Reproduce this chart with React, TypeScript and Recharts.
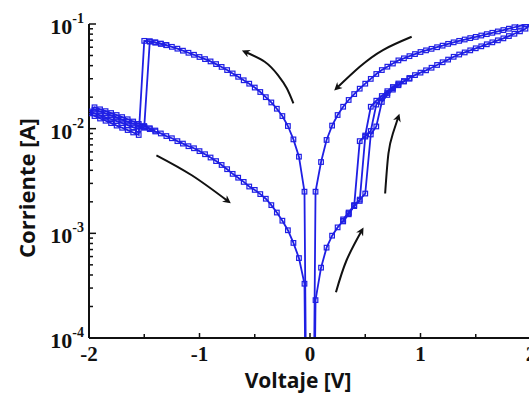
import { Line, LineChart, XAxis, YAxis } from "recharts"

const BLUE = "#1f1fe4"
const INK = "#111111"

type Pt = [number, number]

// bias sweep 0 → +2 V on the high-resistance state, set near +0.5 V
const setSweep: Pt[] = [
  [0, 1e-9], [0.05, 2.3e-4], [0.1, 4.7e-4], [0.15, 7.3e-4], [0.2, 9.5e-4],
  [0.25, 1.14e-3], [0.3, 1.32e-3], [0.35, 1.55e-3], [0.4, 1.82e-3], [0.45, 2.04e-3],
  [0.5, 8.4e-3], [0.55, 9.5e-3], [0.6, 1.7e-2], [0.65, 1.95e-2], [0.7, 2.19e-2],
  [0.75, 2.43e-2], [0.8, 2.64e-2], [0.85, 2.85e-2], [0.9, 3.05e-2], [0.95, 3.25e-2],
  [1.0, 3.43e-2], [1.05, 3.61e-2], [1.1, 3.82e-2], [1.15, 4.06e-2], [1.2, 4.31e-2],
  [1.25, 4.57e-2], [1.3, 4.86e-2], [1.35, 5.11e-2], [1.4, 5.35e-2], [1.45, 5.6e-2],
  [1.5, 5.86e-2], [1.55, 6.12e-2], [1.6, 6.4e-2], [1.65, 6.68e-2], [1.7, 6.98e-2],
  [1.75, 7.29e-2], [1.8, 7.67e-2], [1.85, 8.07e-2], [1.9, 8.51e-2], [1.95, 9.02e-2],
  [2.0, 1.0e-1],
]

// +2 V → 0 on the low-resistance state
const lrsReturn: Pt[] = [
  [2.0, 1.0e-1], [1.95, 9.89e-2], [1.9, 9.59e-2], [1.85, 9.31e-2], [1.8, 9.02e-2],
  [1.75, 8.75e-2], [1.7, 8.49e-2], [1.65, 8.24e-2], [1.6, 8.0e-2], [1.55, 7.76e-2],
  [1.5, 7.53e-2], [1.45, 7.33e-2], [1.4, 7.11e-2], [1.35, 6.9e-2], [1.3, 6.68e-2],
  [1.25, 6.46e-2], [1.2, 6.21e-2], [1.15, 6.0e-2], [1.1, 5.79e-2], [1.05, 5.6e-2],
  [1.0, 5.4e-2], [0.95, 5.16e-2], [0.9, 4.93e-2], [0.85, 4.7e-2], [0.8, 4.49e-2],
  [0.75, 4.19e-2], [0.7, 3.91e-2], [0.65, 3.63e-2], [0.6, 3.33e-2], [0.55, 2.99e-2],
  [0.5, 2.69e-2], [0.45, 2.41e-2], [0.4, 2.14e-2], [0.35, 1.88e-2], [0.3, 1.62e-2],
  [0.25, 1.35e-2], [0.2, 1.07e-2], [0.15, 7.8e-3], [0.1, 4.8e-3], [0.05, 2.5e-3],
  [0, 1e-9],
]

// 0 → -1.5 V on the low-resistance state, reset at -1.5 V
const resetSweep: Pt[] = [
  [0, 1e-9], [-0.05, 2.5e-3], [-0.1, 5.4e-3], [-0.15, 7.9e-3], [-0.2, 1.06e-2],
  [-0.25, 1.32e-2], [-0.3, 1.55e-2], [-0.35, 1.78e-2], [-0.4, 2.0e-2], [-0.45, 2.24e-2],
  [-0.5, 2.47e-2], [-0.55, 2.69e-2], [-0.6, 2.9e-2], [-0.65, 3.13e-2], [-0.7, 3.37e-2],
  [-0.75, 3.63e-2], [-0.8, 3.89e-2], [-0.85, 4.14e-2], [-0.9, 4.39e-2], [-0.95, 4.62e-2],
  [-1.0, 4.84e-2], [-1.05, 5.08e-2], [-1.1, 5.31e-2], [-1.15, 5.56e-2], [-1.2, 5.81e-2],
  [-1.25, 6.05e-2], [-1.3, 6.27e-2], [-1.35, 6.46e-2], [-1.4, 6.64e-2], [-1.45, 6.79e-2],
  [-1.5, 1.04e-2],
]

// -1.5 → -2 V and back to 0 on the high-resistance state
const hrsNegative: Pt[] = [
  [-1.5, 1.04e-2], [-1.55, 9.9e-3], [-1.6, 1.03e-2], [-1.65, 1.08e-2], [-1.7, 1.13e-2],
  [-1.75, 1.18e-2], [-1.8, 1.23e-2], [-1.85, 1.28e-2], [-1.9, 1.34e-2], [-1.95, 1.4e-2],
  [-2.0, 1.46e-2], [-1.95, 1.52e-2], [-1.9, 1.46e-2], [-1.85, 1.4e-2], [-1.8, 1.34e-2],
  [-1.75, 1.28e-2], [-1.7, 1.22e-2], [-1.65, 1.17e-2], [-1.6, 1.12e-2], [-1.55, 1.07e-2],
  [-1.5, 1.02e-2], [-1.45, 9.9e-3], [-1.4, 9.4e-3], [-1.35, 9.0e-3], [-1.3, 8.5e-3],
  [-1.25, 8.1e-3], [-1.2, 7.6e-3], [-1.15, 7.2e-3], [-1.1, 6.8e-3], [-1.05, 6.5e-3],
  [-1.0, 6.1e-3], [-0.95, 5.7e-3], [-0.9, 5.3e-3], [-0.85, 4.9e-3], [-0.8, 4.5e-3],
  [-0.75, 4.1e-3], [-0.7, 3.7e-3], [-0.65, 3.4e-3], [-0.6, 3.1e-3], [-0.55, 2.8e-3],
  [-0.5, 2.6e-3], [-0.45, 2.37e-3], [-0.4, 2.14e-3], [-0.35, 1.86e-3], [-0.3, 1.58e-3],
  [-0.25, 1.32e-3], [-0.2, 1.07e-3], [-0.15, 8.1e-4], [-0.1, 5.8e-4], [-0.05, 3.3e-4],
  [0, 1e-9],
]

// repeat cycles around the switching events
const setCycle2: Pt[] = [
  [0.3, 1.36e-3], [0.35, 1.58e-3], [0.4, 1.86e-3], [0.45, 2.1e-3], [0.5, 2.4e-3],
  [0.55, 8.8e-3], [0.6, 1.05e-2], [0.65, 1.8e-2], [0.7, 2.1e-2], [0.75, 2.36e-2],
  [0.8, 2.6e-2], [0.85, 2.82e-2], [0.9, 3.0e-2],
]
const setCycle3: Pt[] = [
  [0.3, 1.3e-3], [0.35, 1.52e-3], [0.4, 1.84e-3], [0.45, 7.6e-3], [0.5, 8.6e-3],
  [0.55, 1.62e-2], [0.6, 1.85e-2], [0.65, 2.05e-2], [0.7, 2.28e-2], [0.75, 2.5e-2],
  [0.8, 2.7e-2],
]
const resetCycle2: Pt[] = [
  [-1.3, 6.3e-2], [-1.35, 6.5e-2], [-1.4, 6.68e-2], [-1.45, 6.84e-2], [-1.5, 6.9e-2],
  [-1.55, 8.7e-3], [-1.6, 9.2e-3], [-1.65, 9.7e-3], [-1.7, 1.02e-2], [-1.75, 1.07e-2],
  [-1.8, 1.13e-2], [-1.85, 1.19e-2], [-1.9, 1.25e-2], [-1.95, 1.32e-2], [-2.0, 1.4e-2],
  [-1.95, 1.6e-2], [-1.9, 1.53e-2], [-1.85, 1.47e-2], [-1.8, 1.41e-2], [-1.75, 1.35e-2],
  [-1.7, 1.29e-2], [-1.65, 1.23e-2], [-1.6, 1.17e-2], [-1.55, 1.11e-2], [-1.5, 1.06e-2],
  [-1.45, 1.01e-2], [-1.4, 9.6e-3],
]

// sweep-direction arrows
const arrowUpperLeft: Pt[] = [[-0.15, 1.74e-2], [-0.21, 2.43e-2], [-0.29, 3.25e-2], [-0.41, 4.36e-2], [-0.59, 5.43e-2]]
const arrowUpperRight: Pt[] = [[0.92, 7.55e-2], [0.66, 5.64e-2], [0.45, 3.9e-2], [0.24, 2.43e-2]]
const arrowSet: Pt[] = [[0.68, 2.4e-3], [0.71, 5.8e-3], [0.75, 9.0e-3], [0.8, 1.3e-2]]
const arrowLowerRight: Pt[] = [[0.235, 2.74e-4], [0.33, 5.5e-4], [0.47, 1.07e-3]]
const arrowLowerLeft: Pt[] = [[-1.39, 5.57e-3], [-1.07, 3.59e-3], [-0.74, 2.02e-3]]

const xTicks = [-2, -1.5, -1, -0.5, 0, 0.5, 1, 1.5, 2]
const yTicks = [
  1e-4, 2e-4, 3e-4, 4e-4, 5e-4, 6e-4, 7e-4, 8e-4, 9e-4,
  1e-3, 2e-3, 3e-3, 4e-3, 5e-3, 6e-3, 7e-3, 8e-3, 9e-3,
  1e-2, 2e-2, 3e-2, 4e-2, 5e-2, 6e-2, 7e-2, 8e-2, 9e-2,
  1e-1,
]

const sweeps = [setSweep, lrsReturn, resetSweep, hrsNegative, setCycle2, setCycle3, resetCycle2]
const arrows = [arrowUpperLeft, arrowUpperRight, arrowSet, arrowLowerRight, arrowLowerLeft]

const toRows = (pts: Pt[]) => pts.map(([v, i]) => ({ v, i }))

const SERIF = "'Liberation Serif', 'DejaVu Serif', serif"
const SANS = "'Open Sans', 'Noto Sans', sans-serif"

function SquareDot(props: any) {
  const { cx, cy, index } = props
  if (cx == null || cy == null || !isFinite(cy)) return <g key={index} />
  return (
    <rect key={index} x={cx - 2.3} y={cy - 2.3} width={4.6} height={4.6} fill="none" stroke={BLUE} strokeWidth={1.2} />
  )
}

const isMajorDecade = (v: number) => {
  const e = Math.round(Math.log10(v))
  return Math.abs(v / Math.pow(10, e) - 1) < 1e-6
}

function LeftTick(props: any) {
  const { x, y, payload } = props
  const v = payload.value as number
  const major = isMajorDecade(v)
  return (
    <g>
      <line x1={x} x2={x + (major ? 7 : 4)} y1={y} y2={y} stroke={INK} strokeWidth={1.5} />
      {major && (
        <text x={x - 5} y={y + 10} textAnchor="end" fontFamily={SERIF} fontWeight="bold" fontSize={22} fill={INK}>
          10
          <tspan dy={-11} fontSize={14}>{`${Math.round(Math.log10(v))}`}</tspan>
        </text>
      )}
    </g>
  )
}

function RightTick(props: any) {
  const { x, y, payload } = props
  const major = isMajorDecade(payload.value)
  return <line x1={x} x2={x - (major ? 7 : 4)} y1={y} y2={y} stroke="#777" strokeWidth={1.2} />
}

function BottomTick(props: any) {
  const { x, y, payload } = props
  const v = payload.value as number
  const whole = Number.isInteger(v)
  return (
    <g>
      <line x1={x} x2={x} y1={y} y2={y - (whole ? 5 : 4)} stroke={INK} strokeWidth={1.5} />
      {whole && (
        <text x={x} y={y + 22.5} textAnchor="middle" fontFamily={SERIF} fontWeight="bold" fontSize={21} fill={INK}>
          {v < 0 ? `-${Math.abs(v)}` : `${v}`}
        </text>
      )}
    </g>
  )
}

function TopTick(props: any) {
  const { x, y } = props
  return <line x1={x} x2={x} y1={y} y2={y + 5} stroke={INK} strokeWidth={1.5} />
}

export default function App() {
  return (
    <div style={{ position: "relative", width: 540, height: 394, background: "#fff" }}>
      <style>{"body{margin:0;overflow:hidden;background:#fff}"}</style>
      <svg width={0} height={0} style={{ position: "absolute" }}>
        <defs>
          <marker id="sweepHead" viewBox="0 0 10 10" refX="6" refY="5" markerWidth="4.5" markerHeight="4" orient="auto">
            <path d="M0,0 L10,5 L0,10 L3,5 z" fill={INK} />
          </marker>
        </defs>
      </svg>
      <LineChart width={540} height={394} margin={{ top: 24, right: 9, bottom: 0, left: 0 }}>
        <XAxis
          xAxisId="bottom"
          dataKey="v"
          type="number"
          domain={[-2, 2]}
          ticks={xTicks}
          interval={0}
          allowDataOverflow
          height={56}
          tickSize={0}
          tickMargin={0}
          tick={BottomTick}
          axisLine={{ stroke: INK, strokeWidth: 2 }}
          label={{
            content: (p: any) => {
              const vb = p.viewBox
              return (
                <text x={vb.x + vb.width / 2 - 12} y={387.5} textAnchor="middle" fontFamily={SANS} fontWeight="bold" fontSize={21} fill={INK}>
                  Voltaje [V]
                </text>
              )
            },
          }}
        />
        <XAxis
          xAxisId="top"
          orientation="top"
          dataKey="v"
          type="number"
          domain={[-2, 2]}
          ticks={xTicks}
          interval={0}
          allowDataOverflow
          height={0}
          tickSize={0}
          tickMargin={0}
          tick={TopTick}
          axisLine={{ stroke: INK, strokeWidth: 2 }}
        />
        <YAxis
          yAxisId="left"
          dataKey="i"
          type="number"
          scale="log"
          domain={[1e-4, 1e-1]}
          ticks={yTicks}
          interval={0}
          allowDataOverflow
          width={89}
          tickSize={0}
          tickMargin={0}
          tick={LeftTick}
          axisLine={{ stroke: INK, strokeWidth: 2 }}
          label={{
            content: () => (
              <text
                x={35}
                y={188}
                transform="rotate(-90 35 188)"
                textAnchor="middle"
                fontFamily={SANS}
                fontWeight="bold"
                fontSize={22}
                fill={INK}
              >
                Corriente [A]
              </text>
            ),
          }}
        />
        <YAxis
          yAxisId="right"
          orientation="right"
          dataKey="i"
          type="number"
          scale="log"
          domain={[1e-4, 1e-1]}
          ticks={yTicks}
          interval={0}
          allowDataOverflow
          width={0}
          tickSize={0}
          tickMargin={0}
          tick={RightTick}
          axisLine={{ stroke: INK, strokeWidth: 2 }}
        />
        {sweeps.map((s, k) => (
          <Line
            key={`sweep-${k}`}
            xAxisId="bottom"
            yAxisId="left"
            data={toRows(s)}
            dataKey="i"
            type="linear"
            stroke={BLUE}
            strokeWidth={1.8}
            dot={SquareDot}
            activeDot={false}
            isAnimationActive={false}
          />
        ))}
        {arrows.map((a, k) => (
          <Line
            key={`arrow-${k}`}
            xAxisId="bottom"
            yAxisId="left"
            data={toRows(a)}
            dataKey="i"
            type="natural"
            stroke={INK}
            strokeWidth={2}
            dot={false}
            activeDot={false}
            markerEnd="url(#sweepHead)"
            isAnimationActive={false}
          />
        ))}
      </LineChart>
    </div>
  )
}
